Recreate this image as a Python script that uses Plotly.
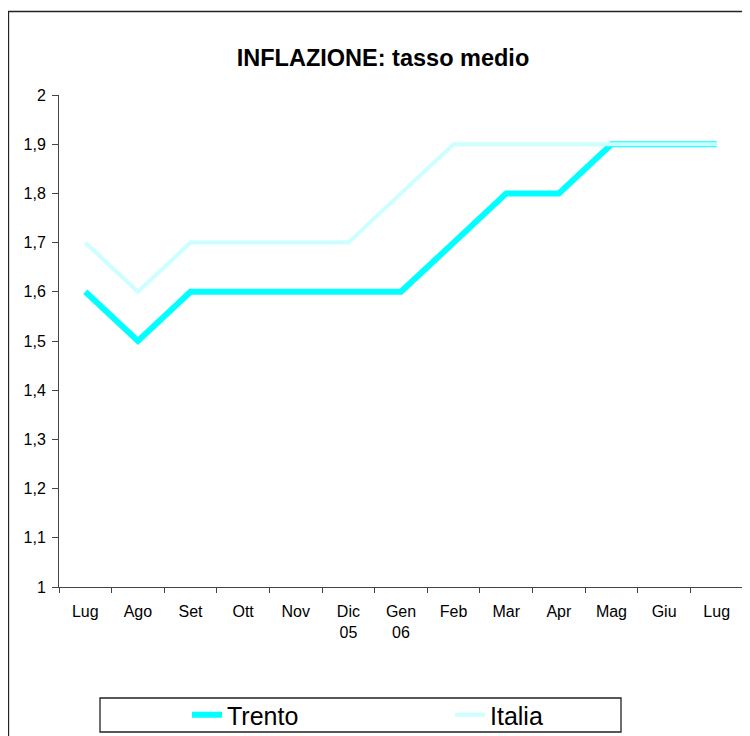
import plotly.graph_objects as go

categories = ["Lug", "Ago", "Set", "Ott", "Nov", "Dic<br>05", "Gen<br>06",
              "Feb", "Mar", "Apr", "Mag", "Giu", "Lug\u200b"]
trento = [1.6, 1.5, 1.6, 1.6, 1.6, 1.6, 1.6, 1.7, 1.8, 1.8, 1.9, 1.9, 1.9]
italia = [1.7, 1.6, 1.7, 1.7, 1.7, 1.7, 1.8, 1.9, 1.9, 1.9, 1.9, 1.9, 1.9]
y_ticks = [1.0, 1.1, 1.2, 1.3, 1.4, 1.5, 1.6, 1.7, 1.8, 1.9, 2.0]
y_ticktext = ["1", "1,1", "1,2", "1,3", "1,4", "1,5", "1,6", "1,7", "1,8", "1,9", "2"]

OFF = 8  # page body margin
W, H = 750 - OFF, 736 - OFF
L, R, T, B = 51, 7, 87, 149
pw, ph = W - L - R, H - T - B

def px_x(x):
    return (x - OFF - L) / pw

def px_y(y):
    return (H - B - (y - OFF)) / ph

fig = go.Figure()
fig.add_trace(go.Scatter(x=categories, y=trento, name="Trento", mode="lines",
                         line=dict(color="#00FFFF", width=6)))
fig.add_trace(go.Scatter(x=categories, y=italia, name="Italia", mode="lines",
                         line=dict(color="#CCFFFF", width=4)))

fig.update_layout(
    width=W, height=H,
    margin=dict(l=L, r=R, t=T, b=B, autoexpand=False),
    paper_bgcolor="white", plot_bgcolor="white",
    font=dict(family="Liberation Sans, Arial, sans-serif", color="black", size=16),
    title=dict(text="<b>INFLAZIONE: tasso medio</b>", font=dict(size=23.5),
               x=px_x(383), xref="paper", xanchor="center",
               y=1 - (58 - OFF) / H, yref="container", yanchor="middle"),
    showlegend=True,
    legend=dict(orientation="h", x=px_x(187), y=px_y(715), xanchor="left", yanchor="middle",
                font=dict(size=25), bgcolor="rgba(0,0,0,0)", borderwidth=0,
                entrywidth=218, itemwidth=30),
    shapes=[
        dict(type="rect", xref="paper", yref="paper",
             x0=px_x(8.5), x1=px_x(770), y0=px_y(760), y1=px_y(11.5),
             line=dict(color="#222", width=1.3), fillcolor="rgba(0,0,0,0)", layer="below"),
        dict(type="rect", xref="paper", yref="paper",
             x0=px_x(100), x1=px_x(621), y0=px_y(732), y1=px_y(698),
             line=dict(color="#222", width=1.3), fillcolor="rgba(0,0,0,0)", layer="below"),
    ],
)
fig.update_xaxes(type="category", range=[-0.5, 12.5], showline=True, linecolor="#444",
                 linewidth=1, ticks="outside", tickson="boundaries", ticklen=5,
                 tickcolor="#444", showgrid=False, zeroline=False,
                 ticklabelstandoff=10, tickfont=dict(size=16))
fig.update_yaxes(range=[1, 2], tickvals=y_ticks, ticktext=y_ticktext, showline=True,
                 linecolor="#444", linewidth=1, ticks="outside", ticklen=6,
                 tickcolor="#444", showgrid=False, zeroline=False,
                 ticklabelstandoff=3, tickfont=dict(size=16))

fig.write_html("out.html")
